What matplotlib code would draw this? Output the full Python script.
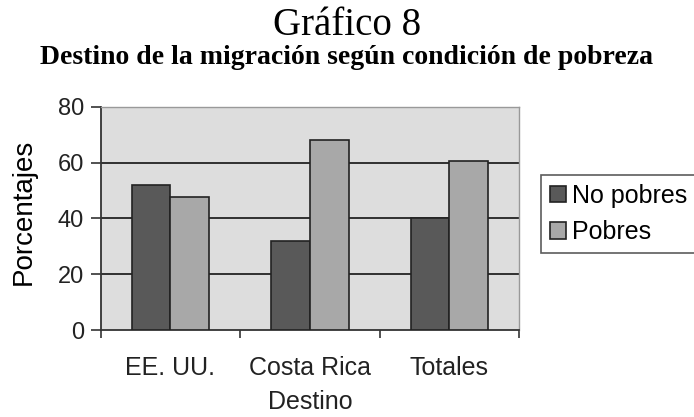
import matplotlib
matplotlib.use('Agg')
from matplotlib import pyplot as plt
import numpy as np

categorias = ['EE. UU.', 'Costa Rica', 'Totales']
no_pobres = [52, 32, 40]
pobres = [47.5, 68, 60.6]
series = ['No pobres', 'Pobres']
yticks = [0, 20, 40, 60, 80]

color_oscuro = '#595959'
color_claro = '#a8a8a8'
fondo = '#dddddd'

fig = plt.figure(figsize=(6.94, 4.17), dpi=100)
ax = fig.add_axes([0.1451, 0.2086, 0.6027, 0.5355])
ax.set_facecolor(fondo)

x = np.arange(len(categorias)) + 0.5
ancho = 0.278
ax.bar(x - ancho / 2, no_pobres, ancho, color=color_oscuro, edgecolor='#222222',
       linewidth=1.2, label=series[0], zorder=3)
ax.bar(x + ancho / 2, pobres, ancho, color=color_claro, edgecolor='#222222',
       linewidth=1.2, label=series[1], zorder=3)

ax.set_xlim(0, 3)
ax.set_ylim(0, 80)
ax.set_yticks(yticks)
ax.set_xticks([0, 1, 2, 3])
ax.set_xticklabels([])
ax.set_xticks(x, minor=True)
ax.set_xticklabels(categorias, minor=True, fontsize=18, family='Liberation Sans', color='#222222')
ax.tick_params(axis='x', which='minor', length=0, pad=18.5)
ax.tick_params(axis='x', which='major', direction='out', length=5.8, width=1.2, color='#333333')
ax.tick_params(axis='y', direction='out', length=7.2, width=1.2, color='#333333', pad=5)
for lbl in ax.get_yticklabels():
    lbl.set_fontsize(17)
    lbl.set_family('Liberation Sans')
    lbl.set_color('#222222')

for yv in [20, 40, 60]:
    ax.axhline(yv, color='#222222', linewidth=1.3, zorder=2)

for s in ['left', 'bottom']:
    ax.spines[s].set_color('#333333')
    ax.spines[s].set_linewidth(1.3)
for s in ['top', 'right']:
    ax.spines[s].set_color('#999999')
    ax.spines[s].set_linewidth(1.0)

ax.set_ylabel('Porcentajes', fontsize=20, family='Liberation Sans')
ax.yaxis.set_label_coords(-0.152, 0.53)
ax.set_xlabel('Destino', fontsize=18, family='Liberation Sans', color='#222222')
ax.xaxis.set_label_coords(0.5, -0.267)

leg = ax.legend(loc='upper left', bbox_to_anchor=(1.0526, 0.694),
                prop={'family': 'Liberation Sans', 'size': 18},
                frameon=True, fancybox=False, handlelength=0.65, handleheight=0.65,
                handletextpad=0.25, borderpad=0.35, labelspacing=0.5, borderaxespad=0)
leg.get_frame().set_edgecolor('#333333')
leg.get_frame().set_linewidth(1.2)

fig.text(0.5, 0.94, 'Gráfico 8', ha='center', va='center', fontsize=28,
         family='Liberation Serif')
fig.text(0.5, 0.862, 'Destino de la migración según condición de pobreza', ha='center',
         va='center', fontsize=20, family='Liberation Serif', weight='bold')

fig.savefig('out.png', dpi=100)
